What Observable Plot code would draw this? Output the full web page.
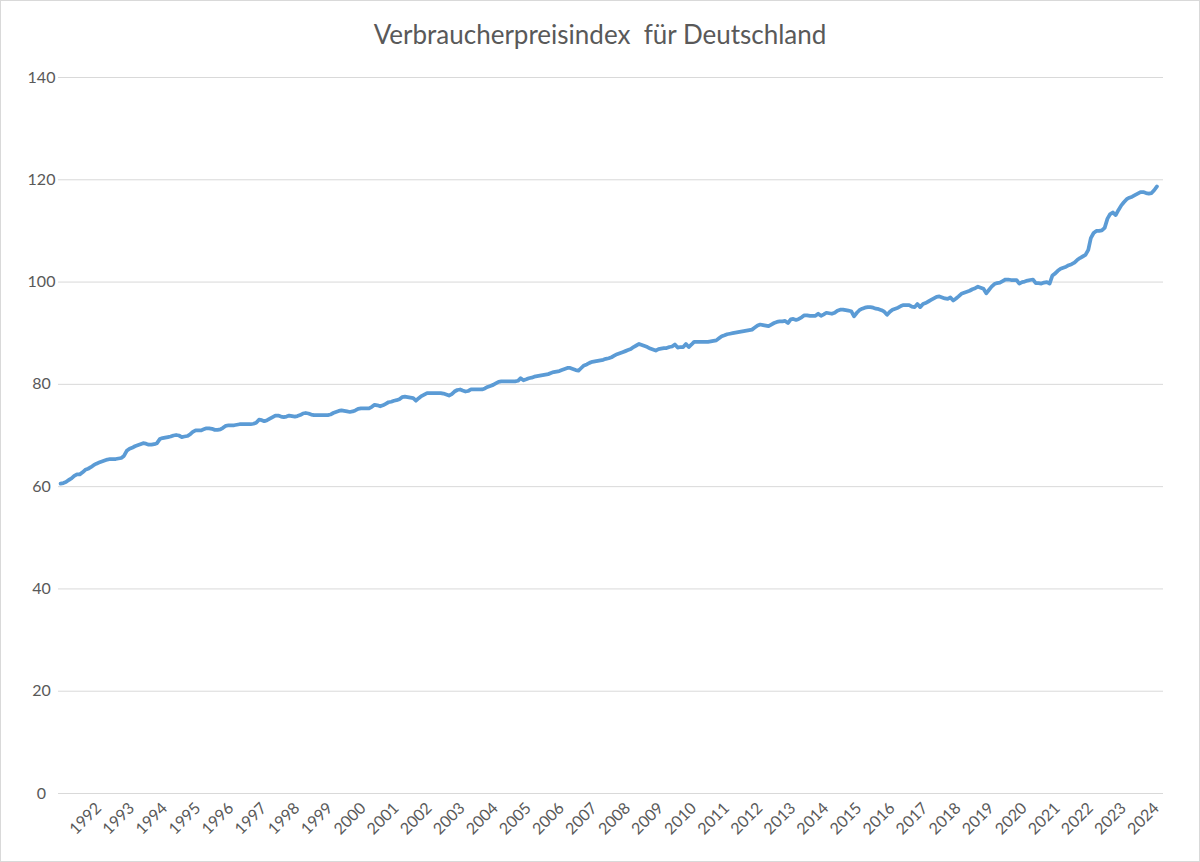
<!DOCTYPE html>
<html>
<head>
<meta charset="utf-8">
<script src="https://cdn.jsdelivr.net/npm/d3@7"></script>
<script src="https://cdn.jsdelivr.net/npm/@observablehq/plot@0.6"></script>
<style>
  html, body { margin: 0; padding: 0; background: #fff; }
  #chart { width: 1200px; height: 862px; box-sizing: border-box; border: 1px solid #d9d9d9; background: #fff; overflow: hidden; }
  #title { height: 59px; box-sizing: border-box; padding-top: 18px; line-height: 30px; font-family: Lato, sans-serif; font-size: 26px; color: #595959; text-align: center; white-space: pre; }
  #plot svg { display: block; }
</style>
</head>
<body>
<div id="chart">
  <div id="title">Verbraucherpreisindex  für Deutschland</div>
  <div id="plot"></div>
</div>
<script>
// Verbraucherpreisindex (monthly values, Jan..Dec)
const firstYear = 1991;
const v1991 = [60.6, 60.7, 60.9, 61.3, 61.6, 62.1, 62.4, 62.4, 62.8, 63.3, 63.5, 63.8];
const v1992 = [64.2, 64.5, 64.7, 64.9, 65.1, 65.3, 65.4, 65.4, 65.4, 65.5, 65.6, 66.0];
const v1993 = [67.0, 67.4, 67.6, 67.9, 68.1, 68.3, 68.5, 68.4, 68.2, 68.2, 68.3, 68.5];
const v1994 = [69.3, 69.5, 69.6, 69.7, 69.8, 70.0, 70.1, 70.0, 69.7, 69.8, 69.9, 70.2];
const v1995 = [70.7, 71.0, 71.0, 71.0, 71.2, 71.4, 71.4, 71.3, 71.1, 71.1, 71.2, 71.5];
const v1996 = [71.9, 72.0, 72.0, 72.0, 72.1, 72.2, 72.2, 72.2, 72.2, 72.2, 72.3, 72.5];
const v1997 = [73.1, 73.0, 72.8, 73.0, 73.3, 73.6, 73.9, 73.9, 73.7, 73.6, 73.7, 73.9];
const v1998 = [73.8, 73.7, 73.8, 74.0, 74.3, 74.4, 74.3, 74.1, 74.0, 74.0, 74.0, 74.0];
const v1999 = [74.0, 74.0, 74.1, 74.4, 74.6, 74.8, 74.9, 74.8, 74.7, 74.6, 74.7, 74.9];
const v2000 = [75.2, 75.3, 75.3, 75.3, 75.3, 75.6, 76.0, 75.9, 75.7, 75.9, 76.2, 76.5];
const v2001 = [76.6, 76.8, 76.9, 77.1, 77.5, 77.6, 77.5, 77.4, 77.3, 76.8, 77.3, 77.7];
const v2002 = [78.0, 78.3, 78.3, 78.3, 78.3, 78.3, 78.3, 78.2, 78.0, 77.8, 78.1, 78.6];
const v2003 = [78.9, 79.0, 78.8, 78.6, 78.7, 79.0, 79.0, 79.0, 79.0, 79.0, 79.2, 79.5];
const v2004 = [79.7, 79.9, 80.2, 80.5, 80.6, 80.6, 80.6, 80.6, 80.6, 80.6, 80.7, 81.2];
const v2005 = [80.8, 81.0, 81.2, 81.3, 81.5, 81.6, 81.7, 81.8, 81.9, 82.0, 82.2, 82.4];
const v2006 = [82.5, 82.6, 82.8, 83.0, 83.2, 83.2, 83.0, 82.8, 82.7, 83.2, 83.7, 83.9];
const v2007 = [84.2, 84.4, 84.5, 84.6, 84.7, 84.8, 85.0, 85.1, 85.3, 85.6, 85.9, 86.1];
const v2008 = [86.3, 86.5, 86.7, 86.9, 87.3, 87.6, 87.9, 87.7, 87.5, 87.3, 87.0, 86.8];
const v2009 = [86.6, 86.9, 87.0, 87.1, 87.1, 87.3, 87.4, 87.8, 87.2, 87.3, 87.3, 87.9];
const v2010 = [87.3, 87.8, 88.3, 88.3, 88.3, 88.3, 88.3, 88.3, 88.4, 88.5, 88.6, 89.0];
const v2011 = [89.4, 89.6, 89.8, 89.9, 90.0, 90.1, 90.2, 90.3, 90.4, 90.5, 90.6, 90.7];
const v2012 = [91.1, 91.5, 91.7, 91.6, 91.5, 91.4, 91.7, 92.0, 92.2, 92.3, 92.3, 92.4];
const v2013 = [92.0, 92.7, 92.8, 92.6, 92.8, 93.1, 93.5, 93.5, 93.4, 93.4, 93.4, 93.8];
const v2014 = [93.4, 93.7, 94.0, 93.9, 93.8, 94.0, 94.4, 94.6, 94.6, 94.5, 94.4, 94.3];
const v2015 = [93.3, 94.0, 94.5, 94.8, 95.0, 95.1, 95.1, 95.0, 94.8, 94.7, 94.5, 94.2];
const v2016 = [93.6, 94.2, 94.6, 94.8, 95.0, 95.3, 95.5, 95.5, 95.5, 95.2, 95.1, 95.7];
const v2017 = [95.1, 95.7, 95.9, 96.2, 96.5, 96.8, 97.1, 97.2, 97.0, 96.8, 96.7, 97.0];
const v2018 = [96.4, 96.8, 97.2, 97.7, 97.9, 98.1, 98.3, 98.6, 98.8, 99.1, 98.9, 98.7];
const v2019 = [97.8, 98.5, 99.1, 99.6, 99.8, 99.9, 100.2, 100.5, 100.5, 100.4, 100.4, 100.4];
const v2020 = [99.7, 100.0, 100.1, 100.3, 100.4, 100.5, 99.8, 99.8, 99.7, 99.9, 100.0, 99.7];
const v2021 = [101.3, 101.7, 102.2, 102.6, 102.8, 103.0, 103.3, 103.5, 103.8, 104.3, 104.7, 105.0];
const v2022 = [105.3, 106.3, 108.6, 109.6, 110.0, 110.0, 110.1, 110.6, 112.4, 113.3, 113.6, 113.1];
const v2023 = [114.1, 115.0, 115.6, 116.2, 116.5, 116.7, 117.0, 117.3, 117.6, 117.6, 117.4, 117.3];
const v2024 = [117.4, 118.0, 118.7];

const yearSeries = [v1991, v1992, v1993, v1994, v1995, v1996, v1997, v1998, v1999, v2000,
  v2001, v2002, v2003, v2004, v2005, v2006, v2007, v2008, v2009, v2010,
  v2011, v2012, v2013, v2014, v2015, v2016, v2017, v2018, v2019, v2020,
  v2021, v2022, v2023, v2024];

const xTickLabels = ["1992","1993","1994","1995","1996","1997","1998","1999","2000","2001","2002",
  "2003","2004","2005","2006","2007","2008","2009","2010","2011","2012","2013","2014","2015",
  "2016","2017","2018","2019","2020","2021","2022","2023","2024"];
const yTicks = [0, 20, 40, 60, 80, 100, 120, 140];

const data = [];
yearSeries.forEach((vals, i) => {
  vals.forEach((v, m) => data.push({date: new Date(Date.UTC(firstYear + i, m, 1)), value: v}));
});
const tickDates = xTickLabels.map(y => new Date(Date.UTC(+y, 0, 1)));

const chart = Plot.plot({
  width: 1198,
  height: 801,
  marginTop: 17,
  marginBottom: 68,
  marginLeft: 57,
  marginRight: 36,
  style: {fontFamily: "Lato, sans-serif", fontSize: "16px", color: "#595959", background: "#fff"},
  x: {type: "utc", domain: [new Date(Date.UTC(1990, 11, 9)), new Date(Date.UTC(2024, 4, 12))]},
  y: {domain: [0, 140]},
  marks: [
    Plot.ruleY(yTicks, {stroke: "#d9d9d9", strokeWidth: 1}),
    Plot.axisY({ticks: yTicks, tickSize: 0, tickPadding: 17, textAnchor: "middle", fill: "#595959", fontSize: 16, label: null}),
    Plot.axisX({ticks: tickDates, tickFormat: d => String(d.getUTCFullYear()), tickRotate: -45, tickSize: 0, tickPadding: 12, dx: 5, fill: "#595959", fontSize: 16, label: null}),
    Plot.line(data, {x: "date", y: "value", stroke: "#5B9BD5", strokeWidth: 3.75, strokeLinejoin: "round", strokeLinecap: "round"})
  ]
});
document.getElementById("plot").appendChild(chart);
</script>
</body>
</html>
